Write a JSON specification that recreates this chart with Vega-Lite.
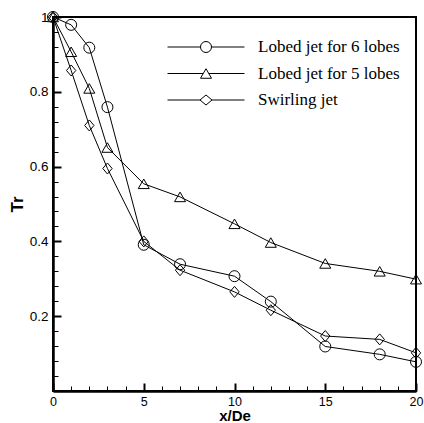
{
  "$schema": "https://vega.github.io/schema/vega-lite/v6.json",
  "width": 363,
  "height": 374,
  "autosize": {"type": "none"},
  "padding": {"left": 53, "top": 17, "right": 8, "bottom": 32},
  "background": "white",
  "config": {
    "view": {"stroke": "black", "strokeWidth": 2},
    "font": "Liberation Sans",
    "axis": {"grid": false, "labelColor": "black", "titleColor": "black", "tickColor": "black", "domainColor": "black"}
  },
  "data": {
    "values": [
      {"series": "Lobed jet for 6 lobes", "x": 0, "tr": 1.0},
      {"series": "Lobed jet for 6 lobes", "x": 1, "tr": 0.979},
      {"series": "Lobed jet for 6 lobes", "x": 2, "tr": 0.918},
      {"series": "Lobed jet for 6 lobes", "x": 3, "tr": 0.759},
      {"series": "Lobed jet for 6 lobes", "x": 5, "tr": 0.391},
      {"series": "Lobed jet for 6 lobes", "x": 7, "tr": 0.339},
      {"series": "Lobed jet for 6 lobes", "x": 10, "tr": 0.307},
      {"series": "Lobed jet for 6 lobes", "x": 12, "tr": 0.239},
      {"series": "Lobed jet for 6 lobes", "x": 15, "tr": 0.119},
      {"series": "Lobed jet for 6 lobes", "x": 18, "tr": 0.098},
      {"series": "Lobed jet for 6 lobes", "x": 20, "tr": 0.078},
      {"series": "Lobed jet for 5 lobes", "x": 0, "tr": 1.0},
      {"series": "Lobed jet for 5 lobes", "x": 1, "tr": 0.907},
      {"series": "Lobed jet for 5 lobes", "x": 2, "tr": 0.809},
      {"series": "Lobed jet for 5 lobes", "x": 3, "tr": 0.651},
      {"series": "Lobed jet for 5 lobes", "x": 5, "tr": 0.554},
      {"series": "Lobed jet for 5 lobes", "x": 7, "tr": 0.519},
      {"series": "Lobed jet for 5 lobes", "x": 10, "tr": 0.447},
      {"series": "Lobed jet for 5 lobes", "x": 12, "tr": 0.397},
      {"series": "Lobed jet for 5 lobes", "x": 15, "tr": 0.341},
      {"series": "Lobed jet for 5 lobes", "x": 18, "tr": 0.32},
      {"series": "Lobed jet for 5 lobes", "x": 20, "tr": 0.299},
      {"series": "Swirling jet", "x": 0, "tr": 1.0},
      {"series": "Swirling jet", "x": 1, "tr": 0.857},
      {"series": "Swirling jet", "x": 2, "tr": 0.71},
      {"series": "Swirling jet", "x": 3, "tr": 0.595},
      {"series": "Swirling jet", "x": 5, "tr": 0.4},
      {"series": "Swirling jet", "x": 7, "tr": 0.323},
      {"series": "Swirling jet", "x": 10, "tr": 0.265},
      {"series": "Swirling jet", "x": 12, "tr": 0.216},
      {"series": "Swirling jet", "x": 15, "tr": 0.147},
      {"series": "Swirling jet", "x": 18, "tr": 0.138},
      {"series": "Swirling jet", "x": 20, "tr": 0.102}
    ]
  },
  "layer": [
    {
      "mark": {"type": "line", "color": "black", "strokeWidth": 1},
      "encoding": {
        "x": {
          "field": "x", "type": "quantitative",
          "scale": {"domain": [0, 20], "nice": false, "zero": false},
          "axis": {
            "orient": "bottom", "values": [0, 5, 10, 15, 20], "format": "~g",
            "tickSize": -8, "tickWidth": 2, "domainWidth": 2.5,
            "labelFontSize": 12.5, "labelPadding": 12, "labelFlush": false,
            "title": "x/De", "titleFontSize": 15, "titleFontWeight": "bold", "titlePadding": 1
          }
        },
        "y": {
          "field": "tr", "type": "quantitative",
          "scale": {"domain": [0, 1], "nice": false},
          "axis": {
            "orient": "left", "values": [0.2, 0.4, 0.6, 0.8, 1], "format": "~g",
            "tickSize": -8, "tickWidth": 2, "domainWidth": 2.5,
            "labelFontSize": 13.5, "labelPadding": 13, "labelFlush": false,
            "title": "Tr", "titleFontSize": 17, "titleFontWeight": "bold", "titlePadding": 3
          }
        },
        "detail": {"field": "series"}
      }
    },
    {
      "mark": {"type": "point", "filled": false, "color": "black", "size": 121, "strokeWidth": 1, "opacity": 1},
      "encoding": {
        "x": {
          "field": "x", "type": "quantitative",
          "scale": {"domain": [0, 20], "nice": false, "zero": false},
          "axis": {
            "orient": "bottom", "values": [1, 2, 3, 4, 6, 7, 8, 9, 11, 12, 13, 14, 16, 17, 18, 19],
            "tickSize": -5, "tickWidth": 1, "labels": false, "domain": false, "title": null
          }
        },
        "y": {
          "field": "tr", "type": "quantitative",
          "scale": {"domain": [0, 1], "nice": false},
          "axis": {
            "orient": "left", "values": [0.04, 0.08, 0.12, 0.16, 0.24, 0.28, 0.32, 0.36, 0.44, 0.48, 0.52, 0.56, 0.64, 0.68, 0.72, 0.76, 0.84, 0.88, 0.92, 0.96],
            "tickSize": -5, "tickWidth": 1, "labels": false, "domain": false, "title": null
          }
        },
        "shape": {
          "field": "series", "type": "nominal",
          "scale": {
            "domain": ["Lobed jet for 6 lobes", "Lobed jet for 5 lobes", "Swirling jet"],
            "range": ["circle", "triangle-up", "M0,-1L0.85,0L0,1L-0.85,0Z"]
          },
          "legend": null
        }
      }
    },
    {
      "transform": [{"filter": "false"}],
      "mark": {"type": "point", "filled": false, "color": "black", "strokeWidth": 1, "opacity": 1},
      "encoding": {
        "shape": {
          "field": "series", "type": "nominal",
          "scale": {
            "domain": ["Lobed jet for 6 lobes", "Lobed jet for 5 lobes", "Swirling jet"],
            "range": [
              "M-1,0L-0.143,0M0.143,0L1,0M0.143,0A0.143,0.143,0,1,1,-0.143,0A0.143,0.143,0,1,1,0.143,0Z",
              "M-1,0L-0.072,0M0.072,0L1,0M0,-0.124L0.143,0.124L-0.143,0.124Z",
              "M-1,0L-0.156,0M0.156,0L1,0M-0.156,0L0,-0.13L0.156,0L0,0.13Z"
            ]
          },
          "legend": {
            "title": null,
            "orient": "none",
            "legendX": 114,
            "legendY": 22,
            "padding": 0,
            "symbolSize": 5929,
            "symbolStrokeColor": "black",
            "symbolStrokeWidth": 1,
            "symbolFillColor": "transparent",
            "symbolOpacity": 1,
            "clipHeight": 16,
            "rowPadding": 9.5,
            "labelOffset": 13,
            "labelFont": "Liberation Serif",
            "labelFontSize": 17,
            "labelColor": "black",
            "labelLimit": 300
          }
        }
      }
    }
  ],
  "resolve": {
    "axis": {"x": "independent", "y": "independent"},
    "scale": {"shape": "independent"},
    "legend": {"shape": "independent"}
  }
}
